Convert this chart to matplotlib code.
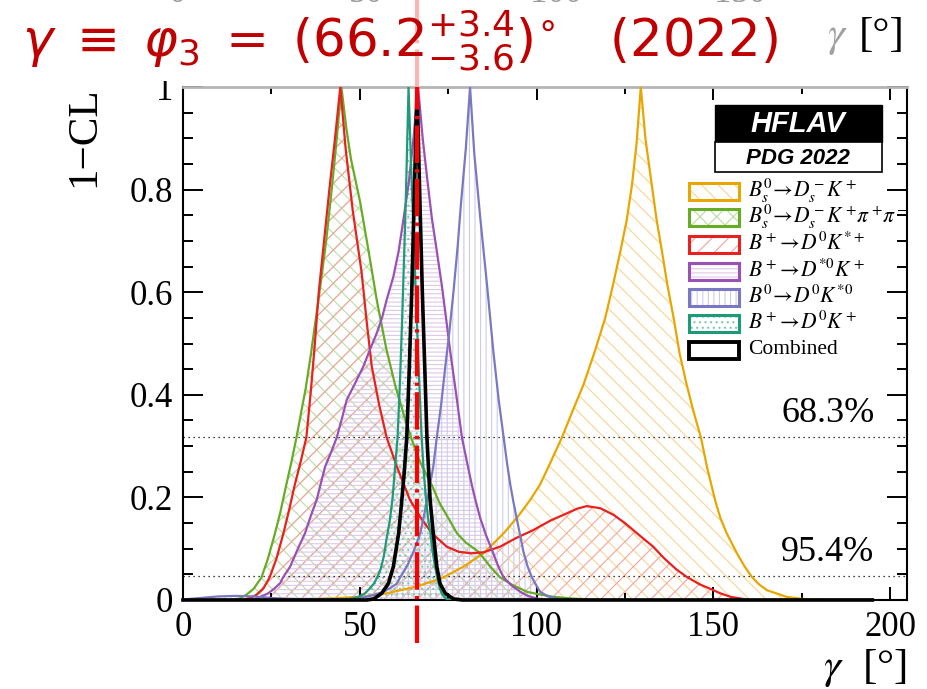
import numpy as np
import matplotlib.pyplot as plt
from matplotlib.patches import Rectangle
from matplotlib.transforms import Affine2D
from matplotlib.ticker import MultipleLocator

plt.rcParams['font.family'] = ['Liberation Serif', 'DejaVu Serif']
plt.rcParams['mathtext.fontset'] = 'stix'
plt.rcParams['hatch.linewidth'] = 0.8

# ---- 1-CL curves (gamma in degrees) ----
x_dsk = [0, 30, 42, 51, 57.6, 66, 73.7, 79.3, 85, 90.7, 95, 98.2, 101, 103.4, 107.2, 110, 113.3,
         116.5, 119.4, 121.5, 123.7, 125.5, 127, 128.3, 129.5, 130.8, 132.6, 134, 135.5, 137,
         138.8, 140.5, 142.5, 144.5, 146.5, 148.2, 150.5, 152, 153.8, 156.7, 158.8, 160.9, 163,
         165.2, 170.8, 176.5, 182, 195]
y_dsk = [0, 0, 0.003, 0.0065, 0.013, 0.026, 0.044, 0.065, 0.091, 0.13, 0.165, 0.195, 0.225, 0.26,
         0.317, 0.365, 0.42, 0.485, 0.549, 0.61, 0.679, 0.74, 0.809, 0.89, 1.0, 0.9, 0.809, 0.74,
         0.679, 0.615, 0.549, 0.48, 0.419, 0.365, 0.317, 0.26, 0.195, 0.16, 0.13, 0.091, 0.066,
         0.045, 0.03, 0.019, 0.006, 0.001, 0, 0]

x_dskpipi = [0, 14, 16, 17.9, 20, 22.2, 24, 25.9, 27.5, 29.2, 30.7, 32.1, 33.4, 34.7, 36.2, 37.6,
             39, 40.5, 42.2, 43.5, 44.8, 46.2, 47.5, 50.1, 52.5, 54.8, 57.5, 60, 62.3, 64.5, 67,
             70.4, 72.5, 75.1, 77.5, 80, 83.6, 86.9, 89.7, 93, 97.3, 100, 105, 110, 115, 120, 195]
y_dskpipi = [0, 0, 0.003, 0.01, 0.022, 0.044, 0.08, 0.127, 0.17, 0.224, 0.27, 0.317, 0.365, 0.412,
             0.48, 0.55, 0.62, 0.7, 0.809, 0.9, 1.0, 0.92, 0.86, 0.776, 0.68, 0.585, 0.49, 0.419,
             0.365, 0.317, 0.27, 0.224, 0.19, 0.159, 0.13, 0.112, 0.094, 0.065, 0.044, 0.03,
             0.016, 0.012, 0.006, 0.003, 0.001, 0, 0]

x_dkst = [0, 17, 19, 20.8, 22.7, 24.5, 26.4, 28.3, 30, 31.6, 33.3, 34.9, 36.2, 37.3, 38.4, 39.9,
          41.4, 43, 44.5, 46, 48, 50.5, 52, 53.4, 55.5, 57.6, 60.5, 64.2, 67.1, 70.4, 74.6, 78,
          81.5, 85, 89.7, 94, 99, 104, 108.6, 111.5, 114.2, 118, 121.8, 125, 129.3, 133, 136,
          139.5, 142.5, 146.3, 149.1, 152, 155, 157.6, 160, 195]
y_dkst = [0, 0, 0.004, 0.01, 0.022, 0.044, 0.08, 0.127, 0.175, 0.224, 0.27, 0.317, 0.41, 0.5, 0.6,
          0.7, 0.8, 0.9, 1.0, 0.88, 0.76, 0.64, 0.54, 0.455, 0.38, 0.317, 0.26, 0.195, 0.162,
          0.13, 0.104, 0.094, 0.091, 0.093, 0.104, 0.12, 0.136, 0.155, 0.169, 0.178, 0.183,
          0.179, 0.166, 0.15, 0.125, 0.104, 0.082, 0.06, 0.045, 0.03, 0.022, 0.013, 0.006, 0.003,
          0, 0]

x_dstk = [0, 19, 20.8, 22.5, 24.1, 25.8, 27.5, 28.3, 30.3, 32.5, 34.5, 36.2, 37.8, 40.2, 42,
          43.5, 45, 46.3, 48.5, 51, 53, 54.8, 56.3, 57.6, 59.5, 61, 62.4, 63.8, 65.2, 66.5, 67.8,
          69.1, 70.4, 71.8, 73.2, 74.4, 75.6, 77.3, 78.9, 80.3, 81.7, 82.9, 84.1, 85.8, 87.6,
          89.2, 90.7, 93, 95.4, 97.5, 100, 103, 195]
y_dstk = [0, 0, 0.003, 0.008, 0.013, 0.022, 0.033, 0.044, 0.065, 0.1, 0.13, 0.165, 0.195, 0.26,
          0.29, 0.317, 0.355, 0.39, 0.42, 0.455, 0.49, 0.52, 0.55, 0.585, 0.63, 0.68, 0.744,
          0.81, 0.9, 1.0, 0.9, 0.82, 0.744, 0.68, 0.614, 0.55, 0.484, 0.4, 0.317, 0.27, 0.224,
          0.19, 0.159, 0.125, 0.094, 0.065, 0.044, 0.028, 0.016, 0.008, 0.003, 0, 0]

x_dkst0 = [0, 5, 10, 15, 20, 25, 30, 40, 47, 51, 54, 56.7, 59, 60.5, 61.4, 63.3, 65.2, 67.1, 68,
           69.5, 70.8, 71.8, 73, 74.2, 75.3, 76.5, 77.7, 78.6, 80, 81.2, 82.4, 84.1, 86, 87.8,
           89.3, 90.7, 91.7, 92.6, 93.5, 94.4, 95.4, 96.3, 97.5, 98.7, 100, 101, 102.5, 104,
           106.7, 110, 195]
y_dkst0 = [0.001, 0.004, 0.007, 0.008, 0.007, 0.004, 0.002, 0.001, 0.002, 0.005, 0.01, 0.016,
           0.025, 0.032, 0.044, 0.065, 0.094, 0.13, 0.159, 0.21, 0.26, 0.317, 0.38, 0.455, 0.52,
           0.6, 0.69, 0.77, 0.88, 1.0, 0.87, 0.744, 0.614, 0.484, 0.39, 0.317, 0.265, 0.224,
           0.19, 0.159, 0.125, 0.094, 0.065, 0.044, 0.028, 0.016, 0.01, 0.005, 0.002, 0, 0]

x_dk = [0, 45, 47.3, 49.5, 51.5, 53, 54, 55, 55.9, 56.8, 57.6, 58.5, 59.3, 60, 60.7, 61.4, 62,
        62.5, 63.1, 63.8, 64.5, 65.2, 66, 66.8, 67.5, 68.1, 68.7, 69.3, 70, 70.6, 71.3, 71.8,
        72.3, 72.8, 73.2, 73.9, 74.6, 76, 195]
y_dk = [0, 0, 0.002, 0.006, 0.013, 0.024, 0.032, 0.045, 0.06, 0.085, 0.12, 0.155, 0.2, 0.26,
        0.317, 0.43, 0.55, 0.66, 0.8, 1.0, 0.85, 0.72, 0.57, 0.43, 0.317, 0.25, 0.2, 0.16, 0.13,
        0.095, 0.065, 0.048, 0.032, 0.02, 0.013, 0.006, 0.002, 0, 0]

x_comb = [0, 52, 53.9, 56.2, 58.1, 59.5, 61, 61.9, 62.6, 63.3, 64, 64.7, 65.4, 66.2, 67, 67.7,
          68.4, 69, 69.5, 69.9, 70.8, 71.8, 72.7, 74.2, 76.5, 79, 195]
y_comb = [0, 0, 0.002, 0.013, 0.032, 0.065, 0.13, 0.195, 0.25, 0.317, 0.45, 0.6, 0.78, 1.0,
          0.78, 0.6, 0.45, 0.317, 0.25, 0.195, 0.13, 0.065, 0.032, 0.013, 0.002, 0, 0]

labels = [r'$B_s^0\!\rightarrow\! D_s^-K^+$',
          r'$B_s^0\!\rightarrow\! D_s^-K^+\!\pi^+\!\pi^-$',
          r'$B^+\!\rightarrow\! D^0K^{*+}$',
          r'$B^+\!\rightarrow\! D^{*0}K^+$',
          r'$B^0\!\rightarrow\! D^0K^{*0}$',
          r'$B^+\!\rightarrow\! D^0K^+$',
          'Combined']

gamma_central = 66.2
cl_levels = [0.317, 0.046]
cl_labels = ['68.3%', '95.4%']

# ---- styles: line colour, hatch colour, hatch ----
series = [
    (x_dsk, y_dsk, '#E8A600', '#F6D592', '\\\\'),
    (x_dskpipi, y_dskpipi, '#66AC24', '#BADCA2', 'xx'),
    (x_dkst, y_dkst, '#E8201E', '#F4A49C', '//'),
    (x_dstk, y_dstk, '#9A50B4', '#DDC8E8', '----'),
    (x_dkst0, y_dkst0, '#7A78C2', '#CCCCEA', '|||'),
    (x_dk, y_dk, '#1E9A78', '#7CC8B2', '...'),
]

W, H = 927, 689
fig = plt.figure(figsize=(W / 100, H / 100), dpi=100)
ax = fig.add_axes([183 / W, 1 - 600 / H, (907 - 183) / W, (600 - 87) / H])
tpx = Affine2D().scale(1 / W, -1 / H).translate(0, 1) + fig.transFigure

for xs, ys, lc, hc, h in series:
    ax.fill_between(xs, ys, 0, facecolor='none', edgecolor=hc, hatch=h, linewidth=0, zorder=1)
for xs, ys, lc, hc, h in series:
    ax.plot(xs, ys, color=lc, lw=1.6, zorder=3)
ax.plot(x_comb, y_comb, color='black', lw=2.6, zorder=4, clip_on=False)

for lev, lab in zip(cl_levels, cl_labels):
    ax.axhline(lev, color='black', lw=0.9, ls=(0, (1, 3)), zorder=2)
    ax.text(0.955, lev + 0.015, lab, transform=ax.get_yaxis_transform(), ha='right',
            va='bottom', fontsize=26)

# red dash-dot marker of the central value
ax.plot([gamma_central, gamma_central], [-0.084, 1.0], color='red', lw=3,
        ls=(0, (9, 1.5, 0.8, 1.5)), clip_on=False, zorder=10)
ax.plot([gamma_central, gamma_central], [1.0, 1.17], color='#FFB4B4', lw=3,
        ls=(0, (9, 1.5, 0.8, 1.5)), clip_on=False, zorder=10)

ax.set_xlim(0, 204.8)
ax.set_ylim(0, 1)
ax.set_xticks([0, 50, 100, 150, 200])
ax.set_xticklabels(['0', '50', '100', '150', '200'])
ax.set_yticks([0, 0.2, 0.4, 0.6, 0.8, 1.0])
ax.set_yticklabels(['0', '0.2', '0.4', '0.6', '0.8', '1'])
ax.xaxis.set_minor_locator(MultipleLocator(25))
ax.yaxis.set_minor_locator(MultipleLocator(0.05))
ax.tick_params(which='both', direction='in', top=True, right=True, labelsize=25, width=1.4)
ax.tick_params(axis='x', which='major', length=9.4, pad=8)
ax.tick_params(axis='x', which='minor', length=5)
ax.tick_params(axis='y', which='major', length=14.4, pad=7)
ax.tick_params(axis='y', which='minor', length=7.2)
for s in ['left', 'right', 'bottom']:
    ax.spines[s].set_linewidth(1.5)
ax.spines['top'].set_color('#B4B4B4')
ax.spines['top'].set_linewidth(2)

# axis titles (ROOT style)
fig.text(907 / W, 1 - 678 / H, r'$\gamma$  [°]', ha='right', va='baseline', fontsize=31)
fig.text(84 / W, 1 - 137 / H, '1\u2212CL', rotation=90, ha='center', va='center', fontsize=31)

# ---- legend with HFLAV logo ----
fig.add_artist(Rectangle((715, 105), 167, 37, transform=tpx, facecolor='black',
                         edgecolor='black', lw=1))
fig.add_artist(Rectangle((715, 142), 167, 30, transform=tpx, facecolor='white',
                         edgecolor='black', lw=1.2))
fig.text(798 / W, 1 - 124 / H, 'HFLAV', color='white', family='Liberation Sans',
         fontweight='bold', fontstyle='italic', fontsize=21, ha='center', va='center')
fig.text(798 / W, 1 - 158 / H, 'PDG 2022', color='black', family='Liberation Sans',
         fontweight='bold', fontstyle='italic', fontsize=16, ha='center', va='center')

rows = [191, 217, 244, 271, 297, 323, 350]
styles = [(lc, hc, h) for _, _, lc, hc, h in series] + [('black', None, None)]
for yc, (lc, hc, h), lab in zip(rows, styles, labels):
    if h is not None:
        fig.add_artist(Rectangle((689, yc - 8.5), 50, 17, transform=tpx, facecolor='white',
                                 edgecolor=hc, hatch=h, lw=0))
    fig.add_artist(Rectangle((689, yc - 8.5), 50, 17, transform=tpx, facecolor='none',
                             edgecolor=lc, lw=2.2 if h is not None else 2.8))
    fig.text(748 / W, 1 - yc / H, lab, fontsize=15.5, ha='left', va='center')

# ---- overlay on top of the figure ----
fig.add_artist(Rectangle((0, 0), 183, 81, transform=tpx, facecolor='white',
                         edgecolor='none', zorder=2))
for xc, t in zip([177, 366, 556, 740], ['0', '50', '100', '150']):
    fig.text(xc / W, 1 - 2 / H, t, color='#9A9A9A', fontsize=25, ha='center', va='baseline')
fig.text(837 / W, 1 - 46 / H, r'$\gamma$', color='#A0A0A0', fontsize=31, ha='center',
         va='baseline')
fig.text(905 / W, 1 - 46 / H, '[°]', color='black', fontsize=31, ha='right', va='baseline')
fig.text(22 / W, 1 - 58 / H,
         r'$\gamma\;\equiv\;\varphi_3\;=\;(66.2^{+3.4}_{-3.6})^{\circ}$   (2022)',
         color='#C00000', fontsize=37, family='DejaVu Sans', math_fontfamily='dejavusans',
         ha='left', va='baseline', zorder=5)

fig.savefig('out.png', dpi=100)
